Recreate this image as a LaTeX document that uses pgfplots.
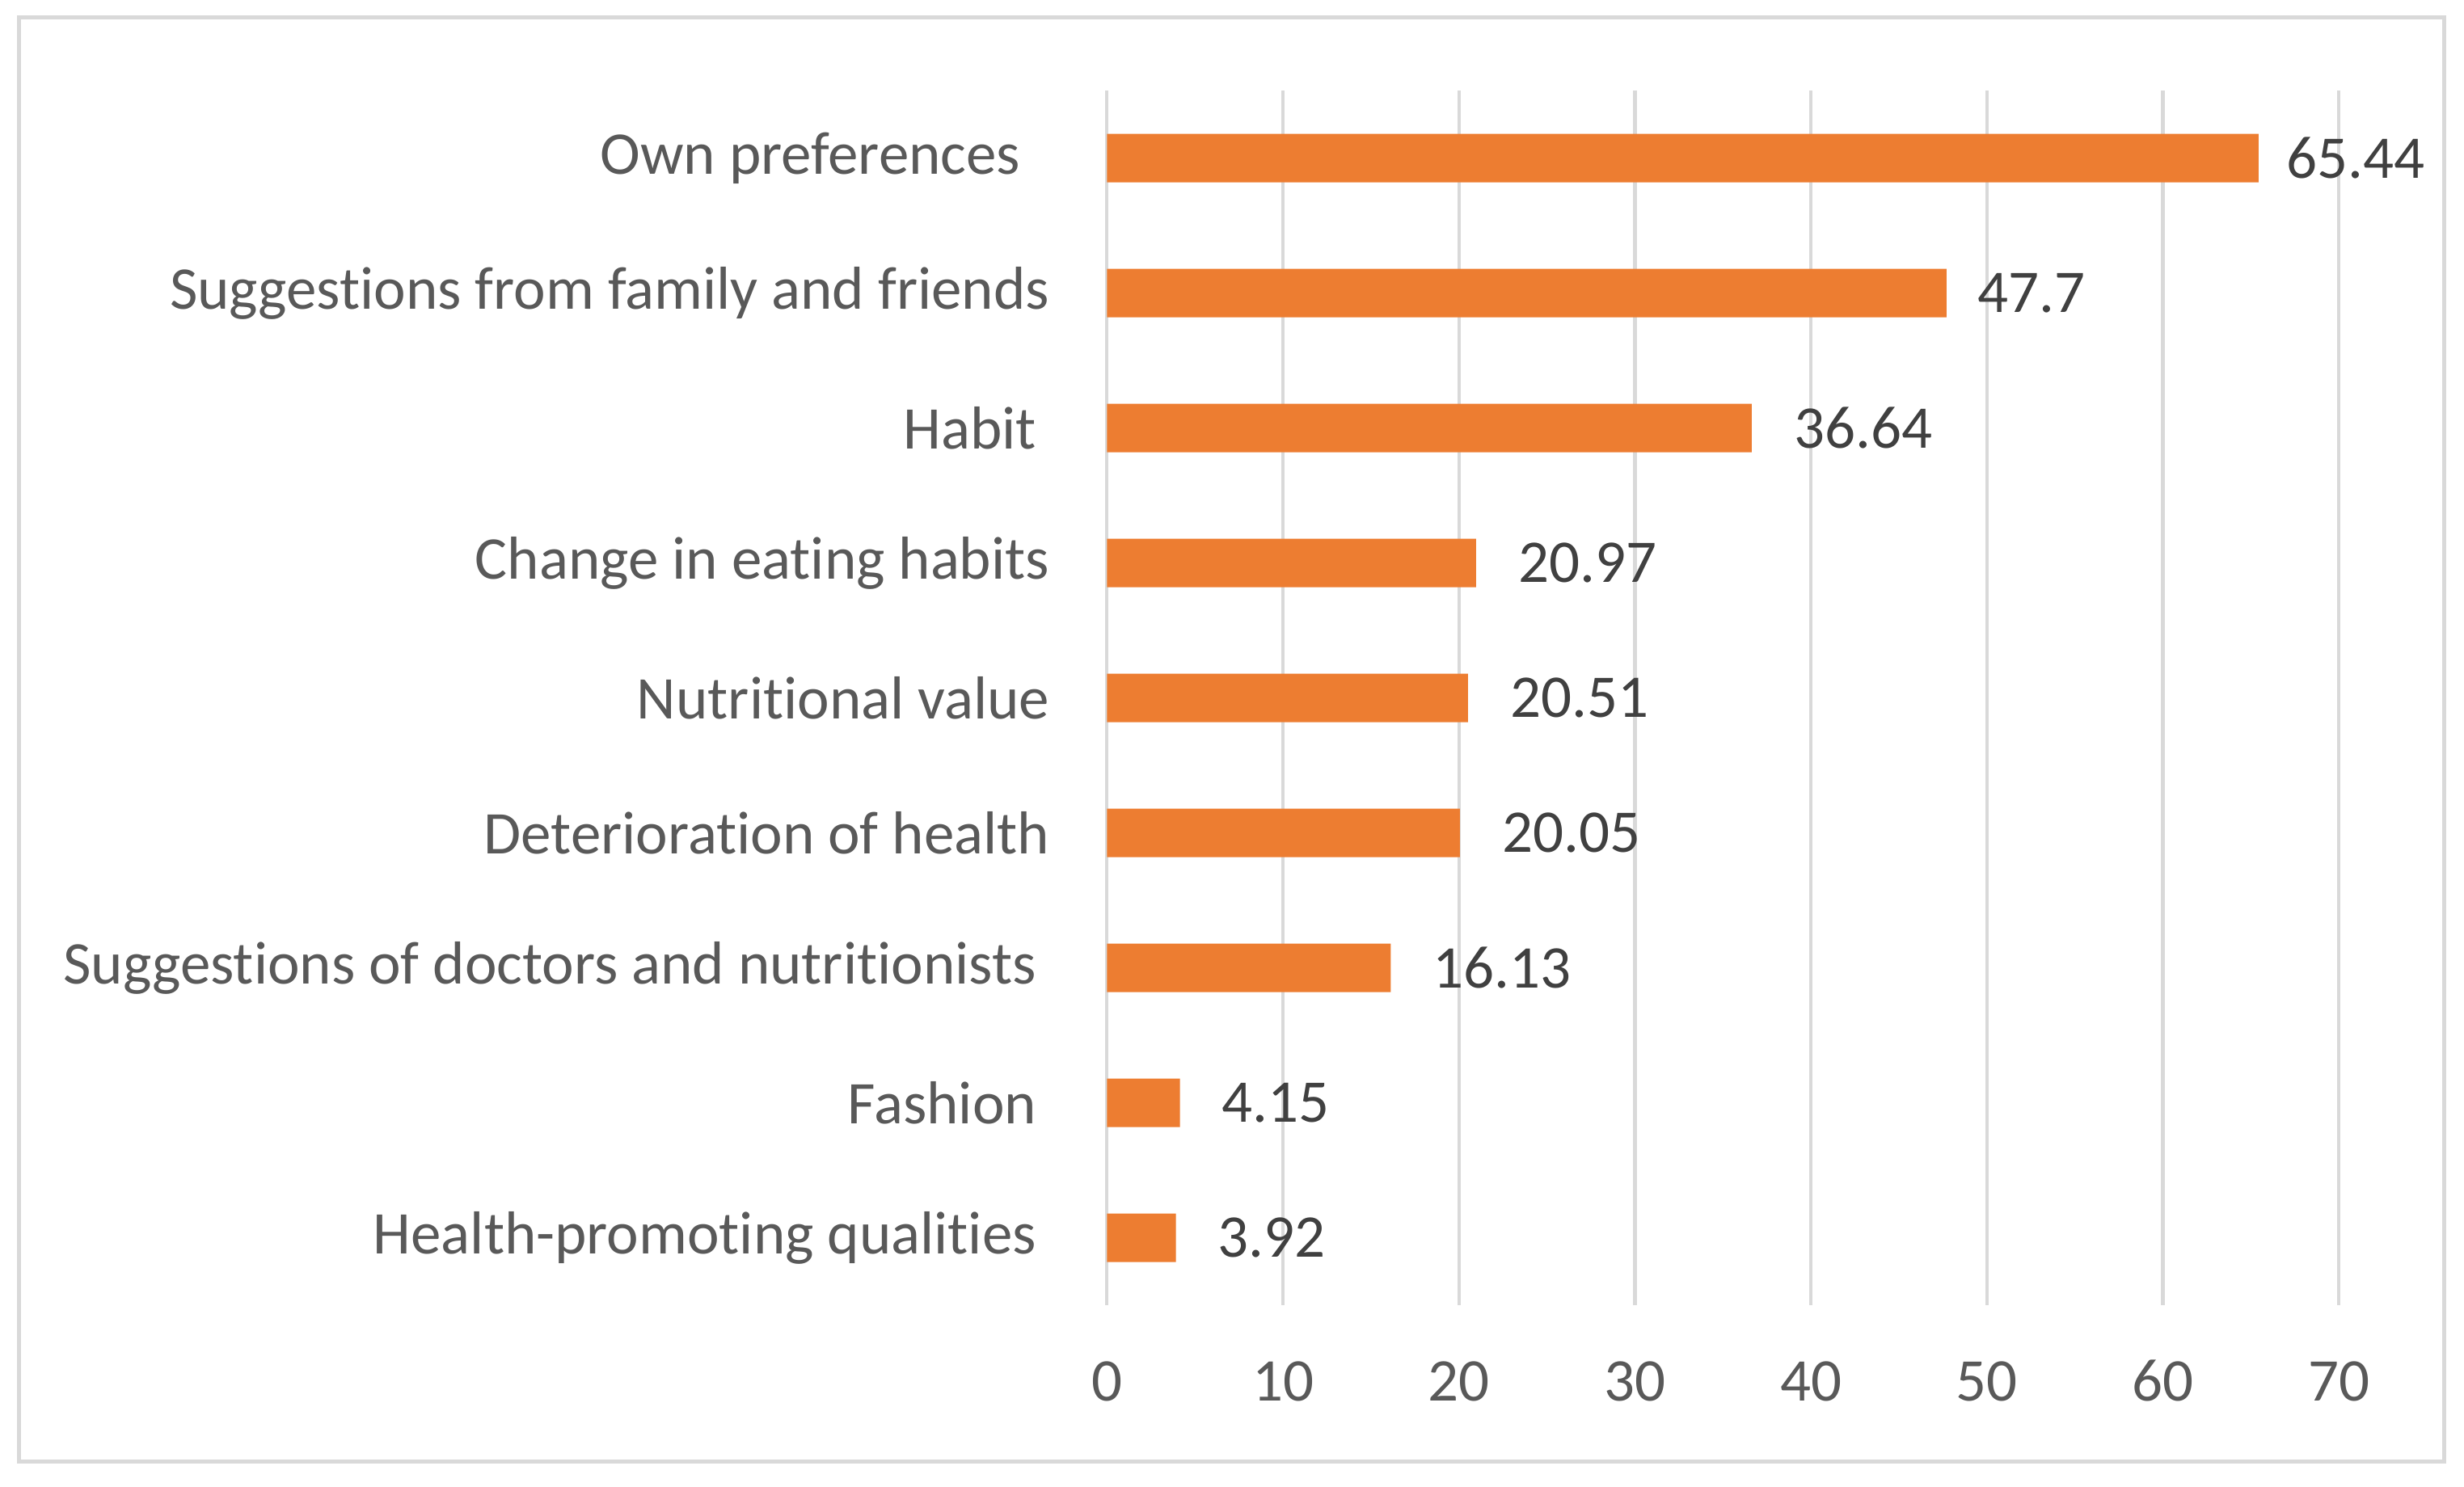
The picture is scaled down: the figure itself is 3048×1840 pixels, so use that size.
\documentclass[border=0pt]{standalone}
\usepackage{fontspec}
\setmainfont{Carlito}[Ligatures={NoCommon}]
\usepackage{pgfplots}
\usepackage{pgfplotstable}
\pgfplotsset{compat=1.18}
\definecolor{barorange}{HTML}{ED7D31}
\definecolor{gridgray}{HTML}{D9D9D9}
\definecolor{labelgray}{HTML}{595959}
\definecolor{valuegray}{HTML}{404040}

% value, category position (9 = top), gap of the value label in pt
\pgfplotstableread{
val   pos gap
3.92  1   9.2
4.15  2   9.2
16.13 3   9.2
20.05 4   9.2
20.51 5   9.2
20.97 6   9.2
36.64 7   9.2
47.7  8   6.7
65.44 9   6.0
}\reasons

\begin{document}
\begin{tikzpicture}[x=0.18pt,y=0.18pt,font=\fontsize{13.5pt}{16pt}\selectfont]
% page and chart frame in pixel units of the reference
\path[use as bounding box] (0,0) rectangle (3048,1840);
\draw[gridgray, line width=0.9pt] (23,1818) rectangle (3023,31);
\begin{axis}[
  at={(246.47pt,40.5pt)}, anchor=south west,
  scale only axis, width=274.3pt, height=270.5pt,
  xbar, bar width=10.8pt,
  xmin=0, xmax=70, ymin=0.5, ymax=9.5,
  xtick={0,10,...,70},
  ytick={1,...,9},
  yticklabels={Health-promoting qualities\kern2.9pt,
    Fashion\kern2.9pt,
    Suggestions of doctors and nutritionists\kern2.9pt,
    Deterioration of health,
    Nutritional value,
    Change in eating habits,
    Habit\kern2.9pt,
    Suggestions from family and friends,
    Own preferences\kern6.5pt},
  axis line style={draw=none},
  major tick length=0pt,
  xmajorgrids, grid style={gridgray, line width=0.75pt},
  yticklabel style={anchor=east, inner sep=0pt, xshift=-12.6pt, text=labelgray},
  xticklabel style={anchor=base, inner sep=0pt, yshift=-21.4pt, text=labelgray},
  /pgf/number format/assume math mode=true,
  clip=false,
]
\addplot[draw=none, fill=barorange,
  visualization depends on={\thisrow{gap} \as \gap},
  nodes near coords,
  every node near coord/.append style={anchor=west, inner sep=0pt,
    xshift=\gap pt, text=valuegray},
] table[x=val, y=pos] {\reasons};
\end{axis}
\end{tikzpicture}
\end{document}
